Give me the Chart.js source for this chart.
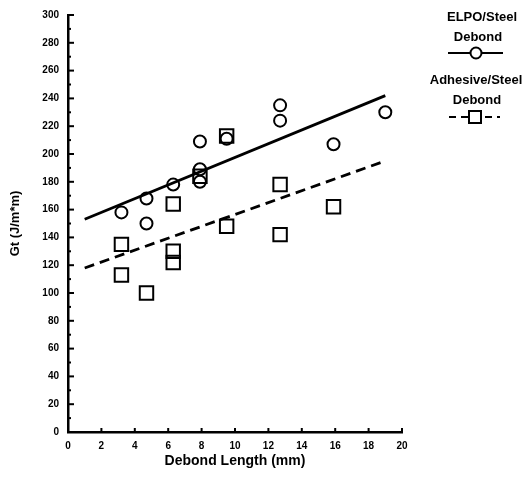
<!DOCTYPE html>
<html>
<head>
<meta charset="utf-8">
<script src="https://cdn.jsdelivr.net/npm/chart.js@4.4.1/dist/chart.umd.min.js"></script>
<style>
  html, body { margin: 0; padding: 0; background: #fff; }
  #wrap { width: 528px; height: 480px; }
</style>
</head>
<body>
<div id="wrap"><canvas id="chart" width="528" height="480"></canvas></div>
<script>
// datos
const elpoX = [3.2, 4.7, 4.7, 6.3, 7.9, 7.9, 7.9, 9.5, 12.7, 12.7, 15.9, 19.0];
const elpoY = [158, 168, 150, 178, 209, 189, 180, 211, 235, 224, 207, 230];

const adhX = [3.2, 3.2, 4.7, 6.3, 6.3, 6.3, 7.9, 9.5, 9.5, 12.7, 12.7, 15.9];
const adhY = [135, 113, 100, 164, 130, 122, 184, 213, 148, 178, 142, 162];

// rectas de ajuste (extremos)
const elpoFitX = [1, 19];
const elpoFitY = [153, 242];
const adhFitX = [1, 19];
const adhFitY = [118, 195];

const xTicks = [0, 2, 4, 6, 8, 10, 12, 14, 16, 18, 20];
const yTicks = [0, 20, 40, 60, 80, 100, 120, 140, 160, 180, 200, 220, 240, 260, 280, 300];

const legendLabels = [['ELPO/Steel', 'Debond'], ['Adhesive/Steel', 'Debond']];

const FONT = '"Liberation Sans", Arial, sans-serif';

const toPoints = (xs, ys) => xs.map((x, i) => ({ x: x, y: ys[i] }));

// marcas de escala hacia dentro y leyenda dibujada a mano
const axisTicks = {
  id: 'axisTicks',
  afterDraw(chart) {
    const ctx = chart.ctx;
    const xs = chart.scales.x;
    const ys = chart.scales.y;
    const area = chart.chartArea;
    ctx.save();
    ctx.strokeStyle = '#000';
    ctx.lineWidth = 2;
    for (let v = 0; v <= 300; v += 10) {
      const py = ys.getPixelForValue(v);
      const len = v % 20 === 0 ? 6 : 3;
      ctx.beginPath();
      ctx.moveTo(area.left, py);
      ctx.lineTo(area.left + len, py);
      ctx.stroke();
    }
    xTicks.forEach(v => {
      const px = xs.getPixelForValue(v);
      ctx.beginPath();
      ctx.moveTo(px, area.bottom);
      ctx.lineTo(px, area.bottom - 4);
      ctx.stroke();
    });

    // leyenda
    ctx.fillStyle = '#000';
    ctx.font = 'bold 13px ' + FONT;
    ctx.textAlign = 'center';
    ctx.textBaseline = 'middle';
    ctx.fillText(legendLabels[0][0], 482, 17);
    ctx.fillText(legendLabels[0][1], 478, 37);
    ctx.beginPath();
    ctx.moveTo(448, 53);
    ctx.lineTo(503, 53);
    ctx.stroke();
    ctx.fillStyle = '#fff';
    ctx.beginPath();
    ctx.arc(476, 53, 5.5, 0, Math.PI * 2);
    ctx.fill();
    ctx.stroke();

    ctx.fillStyle = '#000';
    ctx.fillText(legendLabels[1][0], 476, 80);
    ctx.fillText(legendLabels[1][1], 477, 100);
    ctx.setLineDash([7, 5]);
    ctx.beginPath();
    ctx.moveTo(449, 117);
    ctx.lineTo(500, 117);
    ctx.stroke();
    ctx.setLineDash([]);
    ctx.fillStyle = '#fff';
    ctx.fillRect(469, 111, 12, 12);
    ctx.strokeRect(469, 111, 12, 12);
    ctx.restore();
  }
};

const ctx = document.getElementById('chart').getContext('2d');

new Chart(ctx, {
  type: 'scatter',
  data: {
    datasets: [
      {
        label: 'ELPO/Steel Debond',
        data: toPoints(elpoX, elpoY),
        pointStyle: 'circle',
        pointRadius: 6,
        borderColor: '#000',
        backgroundColor: 'rgba(0,0,0,0)',
        borderWidth: 2,
        showLine: false
      },
      {
        label: 'Adhesive/Steel Debond',
        data: toPoints(adhX, adhY),
        pointStyle: 'rect',
        pointRadius: 9.5,
        borderColor: '#000',
        backgroundColor: 'rgba(0,0,0,0)',
        borderWidth: 2,
        showLine: false
      },
      {
        label: 'ELPO fit',
        data: toPoints(elpoFitX, elpoFitY),
        showLine: true,
        pointRadius: 0,
        borderColor: '#000',
        borderWidth: 2.8,
        fill: false
      },
      {
        label: 'Adhesive fit',
        data: toPoints(adhFitX, adhFitY),
        showLine: true,
        pointRadius: 0,
        borderColor: '#000',
        borderWidth: 2.8,
        borderDash: [10, 6],
        fill: false
      }
    ]
  },
  options: {
    responsive: false,
    animation: false,
    layout: { padding: { left: 0, right: 126, top: 12, bottom: 0 } },
    plugins: {
      legend: { display: false },
      tooltip: { enabled: false }
    },
    scales: {
      x: {
        type: 'linear',
        min: 0,
        max: 20,
        afterBuildTicks: (scale) => { scale.ticks = xTicks.map(v => ({ value: v })); },
        afterFit: (scale) => { scale.height = 48; },
        grid: { drawOnChartArea: false, drawTicks: false },
        border: { display: true, color: '#000', width: 2.5 },
        ticks: {
          padding: 8,
          color: '#000',
          font: { family: FONT, size: 10, weight: 'bold' }
        },
        title: {
          display: true,
          text: 'Debond Length (mm)',
          color: '#000',
          padding: { top: 6, bottom: 10 },
          font: { family: FONT, size: 14, weight: 'bold' }
        }
      },
      y: {
        type: 'linear',
        min: 0,
        max: 300,
        afterBuildTicks: (scale) => { scale.ticks = yTicks.map(v => ({ value: v })); },
        afterFit: (scale) => { scale.width = 68; },
        grid: { drawOnChartArea: false, drawTicks: false },
        border: { display: true, color: '#000', width: 2.5 },
        ticks: {
          padding: 9,
          color: '#000',
          font: { family: FONT, size: 10, weight: 'bold' }
        },
        title: {
          display: true,
          text: 'Gt (J/m*m)',
          color: '#000',
          padding: { top: 8, bottom: 6 },
          font: { family: FONT, size: 13, weight: 'bold' }
        }
      }
    }
  },
  plugins: [axisTicks]
});
</script>
</body>
</html>
